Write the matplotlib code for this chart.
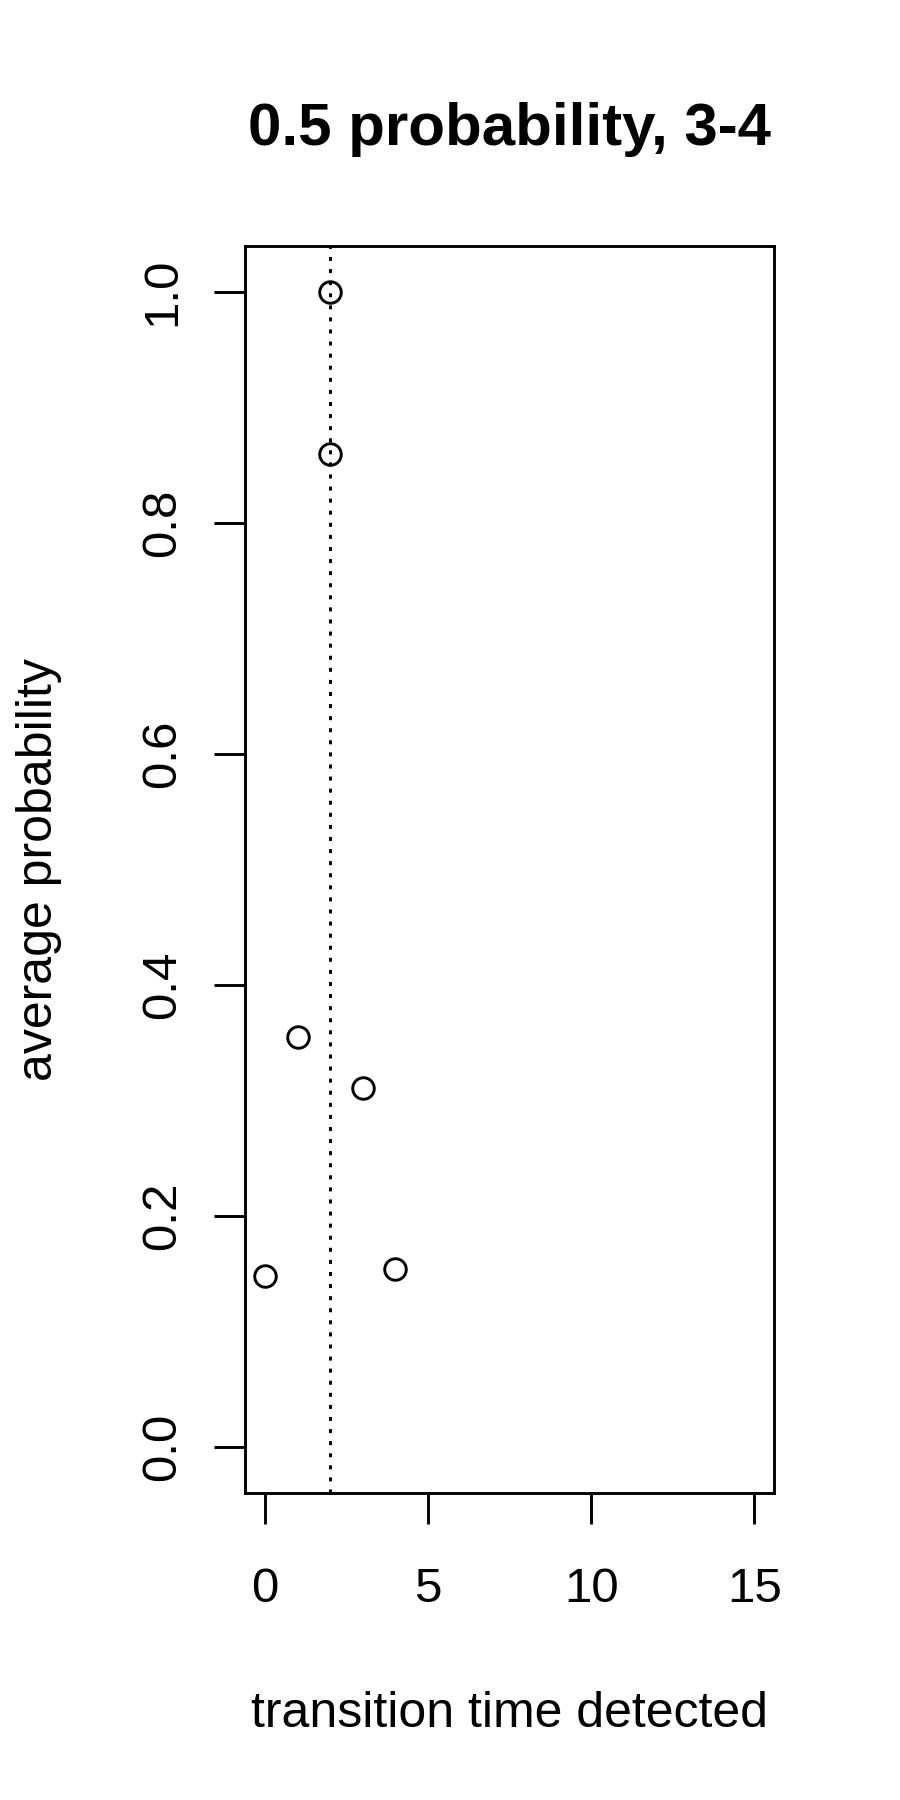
import matplotlib
matplotlib.use("Agg")
import matplotlib.pyplot as plt

# Data
transition_time = [0, 1, 2, 2, 3, 4]
avg_probability = [0.1475, 0.355, 0.86, 1.0, 0.311, 0.154]
vline_x = 2
x_ticks = [0, 5, 10, 15]
y_ticks = [0.0, 0.2, 0.4, 0.6, 0.8, 1.0]
title = "0.5 probability, 3-4"
x_label = "transition time detected"
y_label = "average probability"

W, H = 900, 1800
plt.rcParams['font.family'] = ['Liberation Sans', 'DejaVu Sans']
plt.rcParams['lines.scale_dashes'] = False

fig = plt.figure(figsize=(W / 100, H / 100), dpi=100)
L, R, T, B = 245.4, 774.0, 245.7, 1493.0
ax = fig.add_axes([L / W, 1 - B / H, (R - L) / W, (B - T) / H])

lw = 2.1
ax.plot(transition_time, avg_probability, linestyle='none', marker='o',
        markersize=15.5, markerfacecolor='none', markeredgecolor='black',
        markeredgewidth=lw)
ax.axvline(vline_x, color='black', linewidth=lw, dashes=(2.9, 5.8))

ax.set_xlim(-0.6, 15.6)
ax.set_ylim(-0.04, 1.04)

for s in ax.spines.values():
    s.set_linewidth(lw)

fs_tick = 35.5
fs_lab = 36
tick_len = 31 * 0.72
ax.set_xticks(x_ticks)
ax.set_xticklabels([str(v) for v in x_ticks])
ax.set_yticks(y_ticks)
ax.set_yticklabels([f"{v:.1f}" for v in y_ticks])
ax.tick_params(axis='both', length=tick_len, width=lw, labelsize=fs_tick)
ax.tick_params(axis='x', pad=(1602.3 - 1524) * 0.72)
ax.tick_params(axis='y', pad=(214 - 175) * 0.72)
for lab in ax.get_xticklabels():
    lab.set_va('baseline')
for lab in ax.get_yticklabels():
    lab.set_rotation(90)
    lab.set_rotation_mode('anchor')
    lab.set_ha('center')
    lab.set_va('baseline')

cx = (L + R) / 2 / W
fig.text(cx, 1 - 145 / H, title, ha='center', va='baseline',
         fontsize=43.2, fontweight='bold')
fig.text(cx, 1 - 1727 / H, x_label, ha='center', va='baseline', fontsize=fs_lab)
fig.text(51.7 / W, 1 - ((T + B) / 2) / H, y_label, ha='center', va='baseline',
         rotation=90, rotation_mode='anchor', fontsize=fs_lab)

fig.savefig("out.png", dpi=100)
